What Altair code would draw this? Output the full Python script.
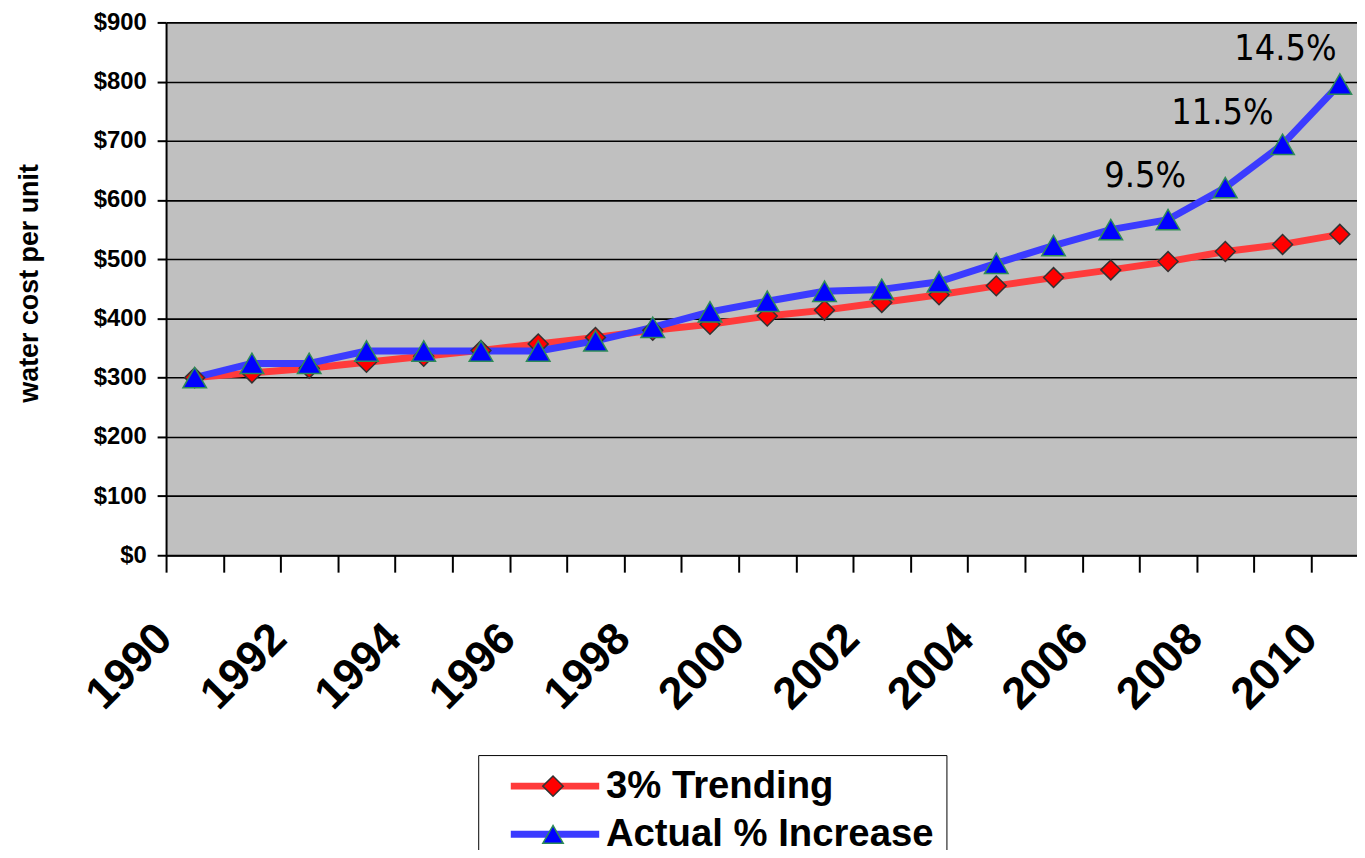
import altair as alt
import pandas as pd

# ---- data ----
years = list(range(1990, 2011))
trend = [300, 308, 316, 326, 336, 346, 357, 368, 380, 390, 404,
         414, 427, 440, 455, 469, 482, 496, 513, 525, 542]
actual = [300, 324, 324, 345, 345, 345, 345, 362, 385, 411, 429,
          446, 449, 462, 493, 523, 550, 567, 621, 694, 796]
series_names = ["3% Trending", "Actual % Increase"]

line_colors = ["#FF3B3B", "#3B3BFF"]
marker_fills = ["#FF0000", "#0000FF"]
marker_strokes = ["#333333", "#2E8B57"]
marker_shapes = ["diamond", "triangle-up"]
marker_sizes = [400, 560]

note_text = ["9.5%", "11.5%", "14.5%"]
note_year = [2006.6, 2007.95, 2009.05]
note_value = [640, 747, 855]

y_ticks = list(range(0, 1000, 100))
x_tick_values = [y - 0.5 for y in years]

rows = []
for name, vals in zip(series_names, [trend, actual]):
    for yr, v in zip(years, vals):
        rows.append({"year": yr, "value": v, "series": name,
                     "series_pt": name, "series_sz": name})
df = pd.DataFrame(rows)
notes = pd.DataFrame({"year": note_year, "value": note_value, "text": note_text})

FONT = "Liberation Sans"
LEG_FS = 38.5
LEG_ROWPAD = 9.5

x_enc = alt.X(
    "year:Q",
    scale=alt.Scale(domain=[1989.5, 2010.3], nice=False, zero=False),
    axis=alt.Axis(
        values=x_tick_values,
        labelExpr="(datum.value - 1989.5) % 2 == 0 ? format(datum.value + 0.5, 'd') : ''",
        labelAngle=315, labelAlign="right", labelBaseline="middle",
        labelFont=FONT, labelFontSize=45, labelFontWeight="bold", labelColor="black",
        labelOffset=-2, labelPadding=59, labelFlush=False, labelOverlap=False,
        tickSize=17, tickColor="black", tickWidth=2,
        domainColor="black", domainWidth=2, grid=False, title=None,
    ),
)
y_enc = alt.Y(
    "value:Q",
    scale=alt.Scale(domain=[0, 900], nice=False, zero=True),
    axis=alt.Axis(
        values=y_ticks, labelExpr="'$' + datum.value",
        labelFont=FONT, labelFontSize=24, labelFontWeight="bold", labelColor="black",
        labelPadding=11, tickSize=9, tickColor="black", tickWidth=2,
        domainColor="black", domainWidth=2,
        grid=True, gridColor="black", gridWidth=1.6,
        title="water cost per unit", titleFont=FONT, titleFontSize=27,
        titleFontWeight="bold", titleColor="black", titleAngle=270,
        titleX=-137, titleY=262, titleAlign="center", titleBaseline="middle",
    ),
)

# legend for the line strokes (same row structure as the marker legend, empty labels)
line_legend = alt.Legend(
    title=None, orient="none", legendX=372, legendY=749,
    symbolType="M-4.34,0H4.34", symbolSize=420, symbolStrokeWidth=7,
    labelFont=FONT, labelFontSize=LEG_FS, labelFontWeight="bold",
    labelExpr="''", labelOffset=0, labelLimit=0,
    padding=0, rowPadding=LEG_ROWPAD, zindex=0,
)

# legend for the markers, carrying the labels and the box
marker_legend = alt.Legend(
    title=None, orient="none", legendX=314, legendY=737,
    symbolSize=420, symbolStrokeWidth=1.5, symbolOffset=44,
    labelFont=FONT, labelFontSize=LEG_FS, labelFontWeight="bold",
    labelColor="black", labelOffset=34, labelLimit=0,
    labelExpr="datum.label + '\u00a0\u00a0'",
    rowPadding=LEG_ROWPAD, padding=12, strokeColor="black", zindex=1,
)

lines = alt.Chart(df).mark_line(strokeWidth=7, strokeJoin="round", strokeCap="round").encode(
    x=x_enc, y=y_enc,
    color=alt.Color("series:N", scale=alt.Scale(domain=series_names, range=line_colors),
                    legend=line_legend),
)

points = alt.Chart(df).mark_point(filled=True, opacity=1, strokeWidth=1.5).encode(
    x="year:Q", y="value:Q",
    shape=alt.Shape("series_pt:N", scale=alt.Scale(range=marker_shapes), legend=marker_legend),
    fill=alt.Fill("series_pt:N", scale=alt.Scale(range=marker_fills), legend=marker_legend),
    stroke=alt.Stroke("series_pt:N", scale=alt.Scale(range=marker_strokes), legend=marker_legend),
    size=alt.Size("series_sz:N", scale=alt.Scale(range=marker_sizes), legend=None),
)

texts = alt.Chart(notes).mark_text(
    font="DejaVu Sans Condensed, DejaVu Sans", fontSize=36, color="black",
    align="center", baseline="middle",
).encode(x="year:Q", y="value:Q", text="text:N")

chart = alt.layer(lines, points, texts).properties(
    width=1198, height=536,
    padding={"left": 159, "top": 12, "right": 0, "bottom": 294},
    autosize=alt.AutoSizeParams(type="none"),
    background="white",
).configure_view(fill="#C0C0C0", strokeWidth=0)

chart.save("out.html", embed_options={"renderer": "svg", "actions": False})
